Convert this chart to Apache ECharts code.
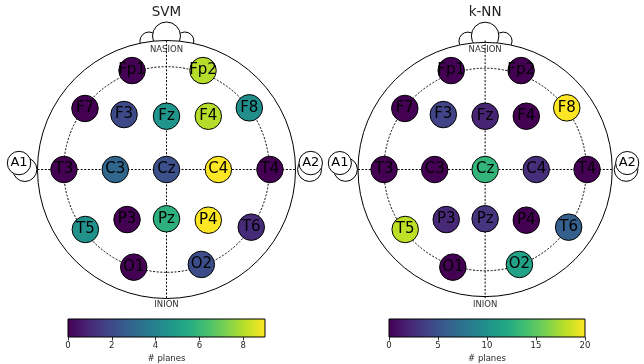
<!DOCTYPE html>
<html><head><meta charset="utf-8">
<script src="https://cdn.jsdelivr.net/npm/echarts@6/dist/echarts.min.js"></script>
<style>html,body{margin:0;padding:0;background:#fff}#c{width:644px;height:364px}</style>
</head><body><div id="c"></div>
<script>
// ---- data ----
const electrodes = ['Fp1','Fp2','F7','F3','Fz','F4','F8','T3','C3','Cz','C4','T4','T5','P3','Pz','P4','T6','O1','O2'];
const posX = [-0.267,0.283,-0.632,-0.329,0.0,0.324,0.642,-0.795,-0.397,0,0.402,0.802,-0.629,-0.306,0,0.324,0.657,-0.254,0.270];
const posY = [0.767,0.767,0.473,0.426,0.413,0.413,0.478,0,0,0,0,0,-0.465,-0.388,-0.382,-0.393,-0.447,-0.757,-0.736];
const svmValues = [0,8,0,2,4.6,8,4.4,0,3,2.2,9,0,4.5,0,5.7,9,1.1,0,2.1];
const knnValues = [0,0,0,4,2,0,20,0,0,13,2.6,0,18,2.3,3,0,6,0,11.5];
const methods = ['SVM','k-NN'];
const svmTicks = [0,2,4,6,8];
const knnTicks = [0,5,10,15,20];
const svmMax = 9;
const knnMax = 20;
const colorbarLabel = '# planes';
const earLabels = ['A1','A2'];
const landmarkLabels = ['NASION','INION'];

// ---- style ----
const viridis = ['#440154','#482475','#414487','#355f8d','#2a788e','#21918c','#22a884','#44bf70','#7ad151','#bddf26','#fde725'];
const FONT = '"DejaVu Sans", sans-serif';
const U = 129; // px per head unit
const heads = [{cx:166.5, cy:169.5}, {cx:487.5, cy:169.5}];

const chart = echarts.init(document.getElementById('c'), null, {renderer:'canvas'});

function headRender(title) {
  return function(params, api) {
    const c = (x,y)=>api.coord([x,y]);
    const u = api.size([1,1])[0];
    const ch = [];
    const solid = {fill:'#fff', stroke:'#000', lineWidth:1};
    const dash = {fill:null, stroke:'#000', lineWidth:1, lineDash:[2,1.6]};
    const circ = (x,y,r,style)=>{const p=c(x,y);return {type:'circle',shape:{cx:p[0],cy:p[1],r:r*u},style:style};};
    const line = (x1,y1,x2,y2)=>{const a=c(x1,y1),b=c(x2,y2);return {type:'line',shape:{x1:a[0],y1:a[1],x2:b[0],y2:b[1]},style:dash};};
    const text = (x,y,t,size,col)=>{const p=c(x,y);return {type:'text',x:p[0],y:p[1],style:{text:t,font:size+'px '+FONT,fill:col,align:'center',verticalAlign:'middle',textAlign:'center',textVerticalAlign:'middle'}};};
    // nose
    ch.push(circ(-0.136,0.996,0.07,solid));
    ch.push(circ(0.142,0.996,0.07,solid));
    ch.push(circ(0,1.035,0.1085,solid));
    // ears
    ch.push(circ(-1.098,0,0.093,solid));
    ch.push(circ(-1.143,0.05,0.091,solid));
    ch.push(circ(1.109,0,0.093,solid));
    ch.push(circ(1.118,0.05,0.091,solid));
    ch.push(text(-1.143,0.05,earLabels[0],13,'#000'));
    ch.push(text(1.118,0.05,earLabels[1],13,'#000'));
    // head
    ch.push(circ(0,0,1,solid));
    // guides
    ch.push(circ(0,0,0.797,dash));
    ch.push(line(-1,0,1,0));
    ch.push(line(0,1,0,-1));
    ch.push(text(0,0.93,landmarkLabels[0],8.5,'#333'));
    ch.push(text(0,-1.05,landmarkLabels[1],8.5,'#333'));
    ch.push(text(0,1.22,title,13.5,'#222'));
    return {type:'group', children:ch};
  };
}

function cbarRender(max) {
  return function(params, api) {
    const a = api.coord([0,1]), b = api.coord([max,0]);
    return {type:'rect', shape:{x:a[0], y:a[1], width:b[0]-a[0], height:b[1]-a[1]},
      style:{fill:new echarts.graphic.LinearGradient(0,0,1,0, viridis.map((col,i)=>({offset:i/(viridis.length-1), color:col}))), stroke:'#000', lineWidth:1}};
  };
}

function elecData(vals){ return electrodes.map((n,i)=>({name:n, value:[posX[i],posY[i],vals[i]]})); }

const grids = [], xAxes = [], yAxes = [], series = [];
heads.forEach((h,k)=>{
  grids.push({left:h.cx-1.25*U, top:h.cy-1.3*U, width:2.5*U, height:2.6*U, containLabel:false});
  xAxes.push({type:'value', gridIndex:k, min:-1.25, max:1.25, show:false});
  yAxes.push({type:'value', gridIndex:k, min:-1.3, max:1.3, show:false});
});
const cbars = [{left:68, width:197, ticks:svmTicks, max:svmMax}, {left:389, width:196, ticks:knnTicks, max:knnMax}];
cbars.forEach((cb,k)=>{
  grids.push({left:cb.left, top:319, width:cb.width, height:19, containLabel:false});
  xAxes.push({type:'value', gridIndex:2+k, min:0, max:cb.max,
    axisLine:{show:false}, splitLine:{show:false},
    axisTick:{show:true, customValues:cb.ticks, length:3.5, lineStyle:{color:'#000', width:0.8}},
    axisLabel:{customValues:cb.ticks, fontSize:8.5, color:'#262626', fontFamily:'DejaVu Sans', margin:4},
    name:colorbarLabel, nameLocation:'middle', nameGap:17,
    nameTextStyle:{fontSize:8.5, color:'#262626', fontFamily:'DejaVu Sans'}});
  yAxes.push({type:'value', gridIndex:2+k, min:0, max:1, show:false});
});

const valueSets = [svmValues, knnValues];
heads.forEach((h,k)=>{
  series.push({type:'custom', xAxisIndex:k, yAxisIndex:k, data:[[0,0]], renderItem:headRender(methods[k]), z:1, silent:true, clip:false});
  series.push({type:'scatter', xAxisIndex:k, yAxisIndex:k, data:elecData(valueSets[k]), symbol:'circle', symbolSize:26.5, z:3,
    itemStyle:{borderColor:'#000', borderWidth:1, opacity:1},
    label:{show:true, position:'inside', formatter:'{b}', color:'#000', fontSize:15, fontFamily:'DejaVu Sans'},
    emphasis:{disabled:true}, silent:true});
});
cbars.forEach((cb,k)=>{
  series.push({type:'custom', xAxisIndex:2+k, yAxisIndex:2+k, data:[[0,0]], renderItem:cbarRender(cb.max), silent:true});
});

chart.setOption({
  animation:false,
  backgroundColor:'#fff',
  grid:grids, xAxis:xAxes, yAxis:yAxes,
  visualMap:[
    {type:'continuous', show:false, min:0, max:svmMax, dimension:2, seriesIndex:1, inRange:{color:viridis}},
    {type:'continuous', show:false, min:0, max:knnMax, dimension:2, seriesIndex:3, inRange:{color:viridis}}
  ],
  series:series
});
</script></body></html>
